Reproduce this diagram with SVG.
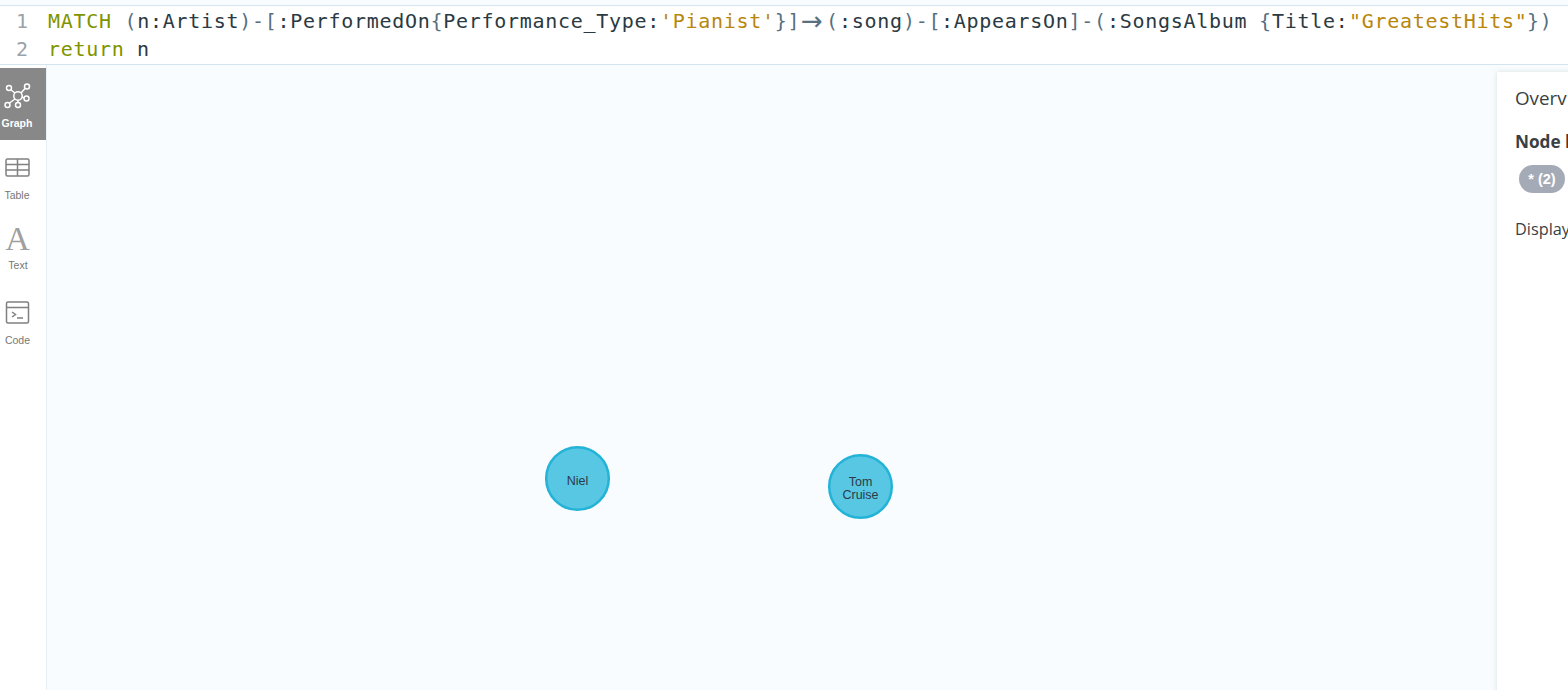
<svg xmlns="http://www.w3.org/2000/svg" width="1568" height="690" viewBox="0 0 1568 690">
<style>
.code{font-family:"DejaVu Sans Mono","Liberation Mono",monospace;font-size:20px;letter-spacing:.71px;fill:#2b3a42}
.kw{fill:#7f9400}.str{fill:#b8860b}.br{fill:#56707f}
.ln{font-family:"DejaVu Sans Mono",monospace;font-size:20px;fill:#9aa3a8}
.tab{font-family:"Liberation Sans",Arial,sans-serif;font-size:10.5px;fill:#777;text-anchor:middle}
.ic{fill:none;stroke:#808080;stroke-width:1.5}
.panel{font-family:"Open Sans","Noto Sans",sans-serif;fill:#3a3f44}
.nt{font-family:"Liberation Sans",Arial,sans-serif;font-size:12.5px;fill:#2d3a48;text-anchor:middle}
.node{fill:#57c7e3;stroke:#23b3d7;stroke-width:2.5}
</style>
<defs><filter id="sh" x="-20%" y="-5%" width="140%" height="110%"><feGaussianBlur stdDeviation="2.5"/></filter></defs>
<rect width="1568" height="690" fill="#f9fcff"/>
<g id="editor">
<rect y="5" width="1568" height="60" fill="#fff"/>
<path d="M0 5.500H1568M0 64.500H1568" stroke="#d5e5ef" fill="none"/>
<text class="ln" x="16" y="28">1</text><text class="ln" x="16" y="56">2</text>
<text class="code" y="28"><tspan x="48" class="kw">MATCH</tspan><tspan x="124.500" class="br">(</tspan><tspan x="137.250">n:Artist</tspan><tspan x="239.250" class="br">)-[</tspan><tspan x="277.500">:PerformedOn</tspan><tspan x="430.500" class="br">{</tspan><tspan x="443.250">Performance_Type:</tspan><tspan x="660" class="str">'Pianist'</tspan><tspan x="774.750" class="br">}]</tspan></text>
<text x="801" y="30" font-family="DejaVu Sans,sans-serif" font-size="26" fill="#56707f">→</text>
<text class="code" y="28"><tspan x="826" class="br">(</tspan><tspan x="839">:song</tspan><tspan x="903" class="br">)-[</tspan><tspan x="941">:AppearsOn</tspan><tspan x="1068.500" class="br">]-(</tspan><tspan x="1107">:SongsAlbum</tspan><tspan x="1259" class="br">{</tspan><tspan x="1272">Title:</tspan><tspan x="1349" class="str">"GreatestHits"</tspan><tspan x="1527" class="br">})</tspan></text>
<text class="code" y="56"><tspan x="48" class="kw">return</tspan><tspan x="137">n</tspan></text>
</g>
<g id="sidebar">
<rect y="65" width="46" height="625" fill="#fff"/>
<rect x="46" y="65" width="1" height="625" fill="#e9eff4"/>
<rect y="68" width="46" height="72" fill="#888"/>
<g fill="none" stroke="#fff" stroke-width="1.500">
<circle cx="18" cy="96" r="4.200"/><circle cx="9" cy="88" r="2.500"/><circle cx="27" cy="86.500" r="2.500"/><circle cx="26.500" cy="98.500" r="2.500"/><circle cx="18" cy="105" r="2.500"/><circle cx="7.500" cy="105" r="2.500"/>
<path d="M11 90 15 93M25 88.500 21 93M22 97 24 98M18 100V102.500M15 99 9.500 103"/>
</g>
<text x="17" y="127" text-anchor="middle" font-family="Liberation Sans,Arial,sans-serif" font-size="10.500" font-weight="700" fill="#fff">Graph</text>
<g class="ic"><rect x="6" y="159" width="23" height="17" rx="1.500"/><path d="M6 164.500H29M6 170H29M17.500 159V176"/></g>
<text class="tab" x="17" y="199">Table</text>
<text x="17.500" y="250" text-anchor="middle" font-family="Liberation Serif,serif" font-size="34" fill="#a0a0a0">A</text>
<text class="tab" x="18" y="269">Text</text>
<g class="ic"><rect x="6.500" y="302" width="22" height="21" rx="1.500"/><path d="M6.500 307.500H28.500M12 312 15.500 314.500 12 317M17 318H23"/></g>
<text class="tab" x="17.500" y="344">Code</text>
</g>
<g id="overview">
<rect x="1497" y="72" width="90" height="630" fill="#9aa" opacity=".35" filter="url(#sh)"/>
<rect x="1497" y="72" width="80" height="620" fill="#fff"/>
<text class="panel" x="1515" y="105" font-size="18.800">Overv</text>
<text class="panel" x="1515" y="148" font-size="17.200" font-weight="700" fill="#2b2f33">Node l</text>
<rect x="1519" y="165" width="46" height="28" rx="14" fill="#a5abb6"/>
<text x="1542" y="184" text-anchor="middle" font-family="Liberation Sans,Arial,sans-serif" font-size="14.500" font-weight="700" fill="#fff">* (2)</text>
<text class="panel" x="1515" y="235" font-size="16.300">Display</text>
</g>
<g id="connectors"></g>
<g id="node-niel"><circle class="node" cx="577.500" cy="478.500" r="31.300"/><text class="nt" x="577.500" y="484.500">Niel</text></g>
<g id="node-tom-cruise"><circle class="node" cx="860.500" cy="486.500" r="31.300"/><text class="nt" x="860.500" y="486">Tom</text><text class="nt" x="860.500" y="499">Cruise</text></g>
</svg>
